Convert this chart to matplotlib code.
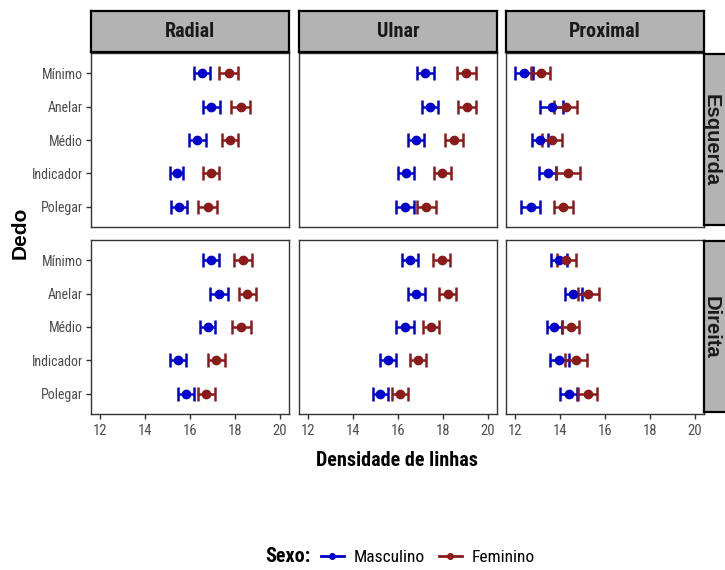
import matplotlib
matplotlib.use("Agg")
import matplotlib.pyplot as plt
from matplotlib.lines import Line2D

plt.rcParams['font.family'] = ['Roboto Condensed', 'Liberation Sans', 'DejaVu Sans']

dedos = ['Polegar', 'Indicador', 'Médio', 'Anelar', 'Mínimo']
regioes = ['Radial', 'Ulnar', 'Proximal']
maos = ['Esquerda', 'Direita']

# Esquerda
esq_radial_masc = [15.51, 15.41, 16.33, 16.95, 16.52]
esq_radial_masc_err = [0.34, 0.29, 0.36, 0.37, 0.36]
esq_radial_fem = [16.79, 16.93, 17.78, 18.25, 17.73]
esq_radial_fem_err = [0.43, 0.35, 0.37, 0.43, 0.42]

esq_ulnar_masc = [16.30, 16.36, 16.80, 17.42, 17.22]
esq_ulnar_masc_err = [0.39, 0.35, 0.36, 0.37, 0.37]
esq_ulnar_fem = [17.26, 17.96, 18.49, 19.07, 19.04]
esq_ulnar_fem_err = [0.41, 0.38, 0.41, 0.41, 0.41]

esq_prox_masc = [12.69, 13.45, 13.12, 13.64, 12.41]
esq_prox_masc_err = [0.42, 0.39, 0.36, 0.51, 0.39]
esq_prox_fem = [14.15, 14.34, 13.66, 14.25, 13.14]
esq_prox_fem_err = [0.43, 0.53, 0.44, 0.51, 0.43]

# Direita
dir_radial_masc = [15.82, 15.48, 16.79, 17.29, 16.92]
dir_radial_masc_err = [0.37, 0.36, 0.34, 0.41, 0.35]
dir_radial_fem = [16.73, 17.17, 18.27, 18.55, 18.37]
dir_radial_fem_err = [0.39, 0.37, 0.42, 0.39, 0.40]

dir_ulnar_masc = [15.22, 15.54, 16.31, 16.82, 16.52]
dir_ulnar_masc_err = [0.35, 0.35, 0.39, 0.36, 0.36]
dir_ulnar_fem = [16.09, 16.88, 17.47, 18.20, 17.94]
dir_ulnar_fem_err = [0.37, 0.36, 0.36, 0.40, 0.39]

dir_prox_masc = [14.38, 13.97, 13.75, 14.59, 13.94]
dir_prox_masc_err = [0.37, 0.41, 0.35, 0.38, 0.35]
dir_prox_fem = [15.23, 14.71, 14.47, 15.26, 14.28]
dir_prox_fem_err = [0.42, 0.47, 0.39, 0.46, 0.41]

x_ticks = [12, 14, 16, 18, 20]

masc_cor = '#0000CD'
fem_cor = '#8B1A1A'

paineis = [
    [(esq_radial_masc, esq_radial_masc_err, esq_radial_fem, esq_radial_fem_err),
     (esq_ulnar_masc, esq_ulnar_masc_err, esq_ulnar_fem, esq_ulnar_fem_err),
     (esq_prox_masc, esq_prox_masc_err, esq_prox_fem, esq_prox_fem_err)],
    [(dir_radial_masc, dir_radial_masc_err, dir_radial_fem, dir_radial_fem_err),
     (dir_ulnar_masc, dir_ulnar_masc_err, dir_ulnar_fem, dir_ulnar_fem_err),
     (dir_prox_masc, dir_prox_masc_err, dir_prox_fem, dir_prox_fem_err)],
]

W, H = 725, 570
fig = plt.figure(figsize=(W / 100, H / 100), dpi=100)


def box(x0, y0, x1, y1):
    # pixel box (top-left origin) -> figure fraction rect
    return [x0 / W, 1 - y1 / H, (x1 - x0) / W, (y1 - y0) / H]


col_x = [(91, 289), (299, 497), (506, 704)]
row_y = [(53, 227), (240, 414)]

for i, mao in enumerate(maos):
    for j, reg in enumerate(regioes):
        x0, x1 = col_x[j]
        y0, y1 = row_y[i]
        ax = fig.add_axes(box(x0, y0, x1, y1))
        m, me, f, fe = paineis[i][j]
        pos = list(range(1, len(dedos) + 1))
        ax.errorbar(m, pos, xerr=me, fmt='o', color=masc_cor, ms=6, lw=1.8,
                    capsize=5, capthick=1.8, zorder=3)
        ax.errorbar(f, pos, xerr=fe, fmt='o', color=fem_cor, ms=6, lw=1.8,
                    capsize=5, capthick=1.8, zorder=3)
        ax.set_xlim(11.6, 20.4)
        ax.set_ylim(0.4, 5.6)
        ax.set_xticks(x_ticks)
        ax.set_yticks(pos)
        for s in ax.spines.values():
            s.set_color('#333333')
            s.set_linewidth(1.0)
        ax.tick_params(colors='#333333', labelcolor='#4D4D4D', labelsize=10,
                       length=3.5, width=1.0, pad=2)
        ax.tick_params(axis='x', pad=4, labelsize=10.5)
        if j == 0:
            ax.set_yticklabels(dedos)
        else:
            ax.tick_params(axis='y', left=False, labelleft=False)
        if i == 1:
            ax.set_xticklabels([str(t) for t in x_ticks])
        else:
            ax.tick_params(axis='x', bottom=False, labelbottom=False)

        if i == 0:
            sax = fig.add_axes(box(x0, 11, x1, 52))
            sax.set_facecolor('#B3B3B3')
            sax.set_xticks([])
            sax.set_yticks([])
            for s in sax.spines.values():
                s.set_color('black')
                s.set_linewidth(1.6)
            sax.text(0.5, 0.5, reg, ha='center', va='center', fontsize=14.5,
                     fontweight='bold', color='#1A1A1A', transform=sax.transAxes)

    y0, y1 = row_y[i]
    rax = fig.add_axes(box(704, y0 + 1, 732, y1 - 2))
    rax.set_facecolor('#B3B3B3')
    rax.set_xticks([])
    rax.set_yticks([])
    for s in rax.spines.values():
        s.set_color('black')
        s.set_linewidth(1.6)
    fig.text(711 / W, 1 - ((y0 + y1) / 2) / H, mao, ha='center', va='center',
             fontsize=14.5, rotation=-90, fontweight='bold',
             family=['Liberation Sans', 'DejaVu Sans'], color='#1A1A1A')

fig.text(20 / W, 1 - 233 / H, 'Dedo', rotation=90, ha='center', va='center',
         fontsize=15, fontweight='bold', family=['Liberation Sans', 'DejaVu Sans'])
fig.text(397 / W, 1 - 460 / H, 'Densidade de linhas', ha='center', va='center',
         fontsize=14.5, fontweight='bold')

fig.text(288 / W, 1 - 557 / H, 'Sexo:', ha='center', va='center',
         fontsize=14.5, fontweight='bold')
handles = [
    Line2D([], [], color=masc_cor, marker='o', ms=4, lw=2),
    Line2D([], [], color=fem_cor, marker='o', ms=4, lw=2),
]
fig.legend(handles, ['Masculino', 'Feminino'], loc='center left',
           bbox_to_anchor=(321 / W, 1 - 557 / H), ncol=2, frameon=False,
           borderpad=0, borderaxespad=0, fontsize=12.5, handlelength=1.3,
           handletextpad=0.6, columnspacing=0.8)

fig.savefig('out.png', dpi=100)
